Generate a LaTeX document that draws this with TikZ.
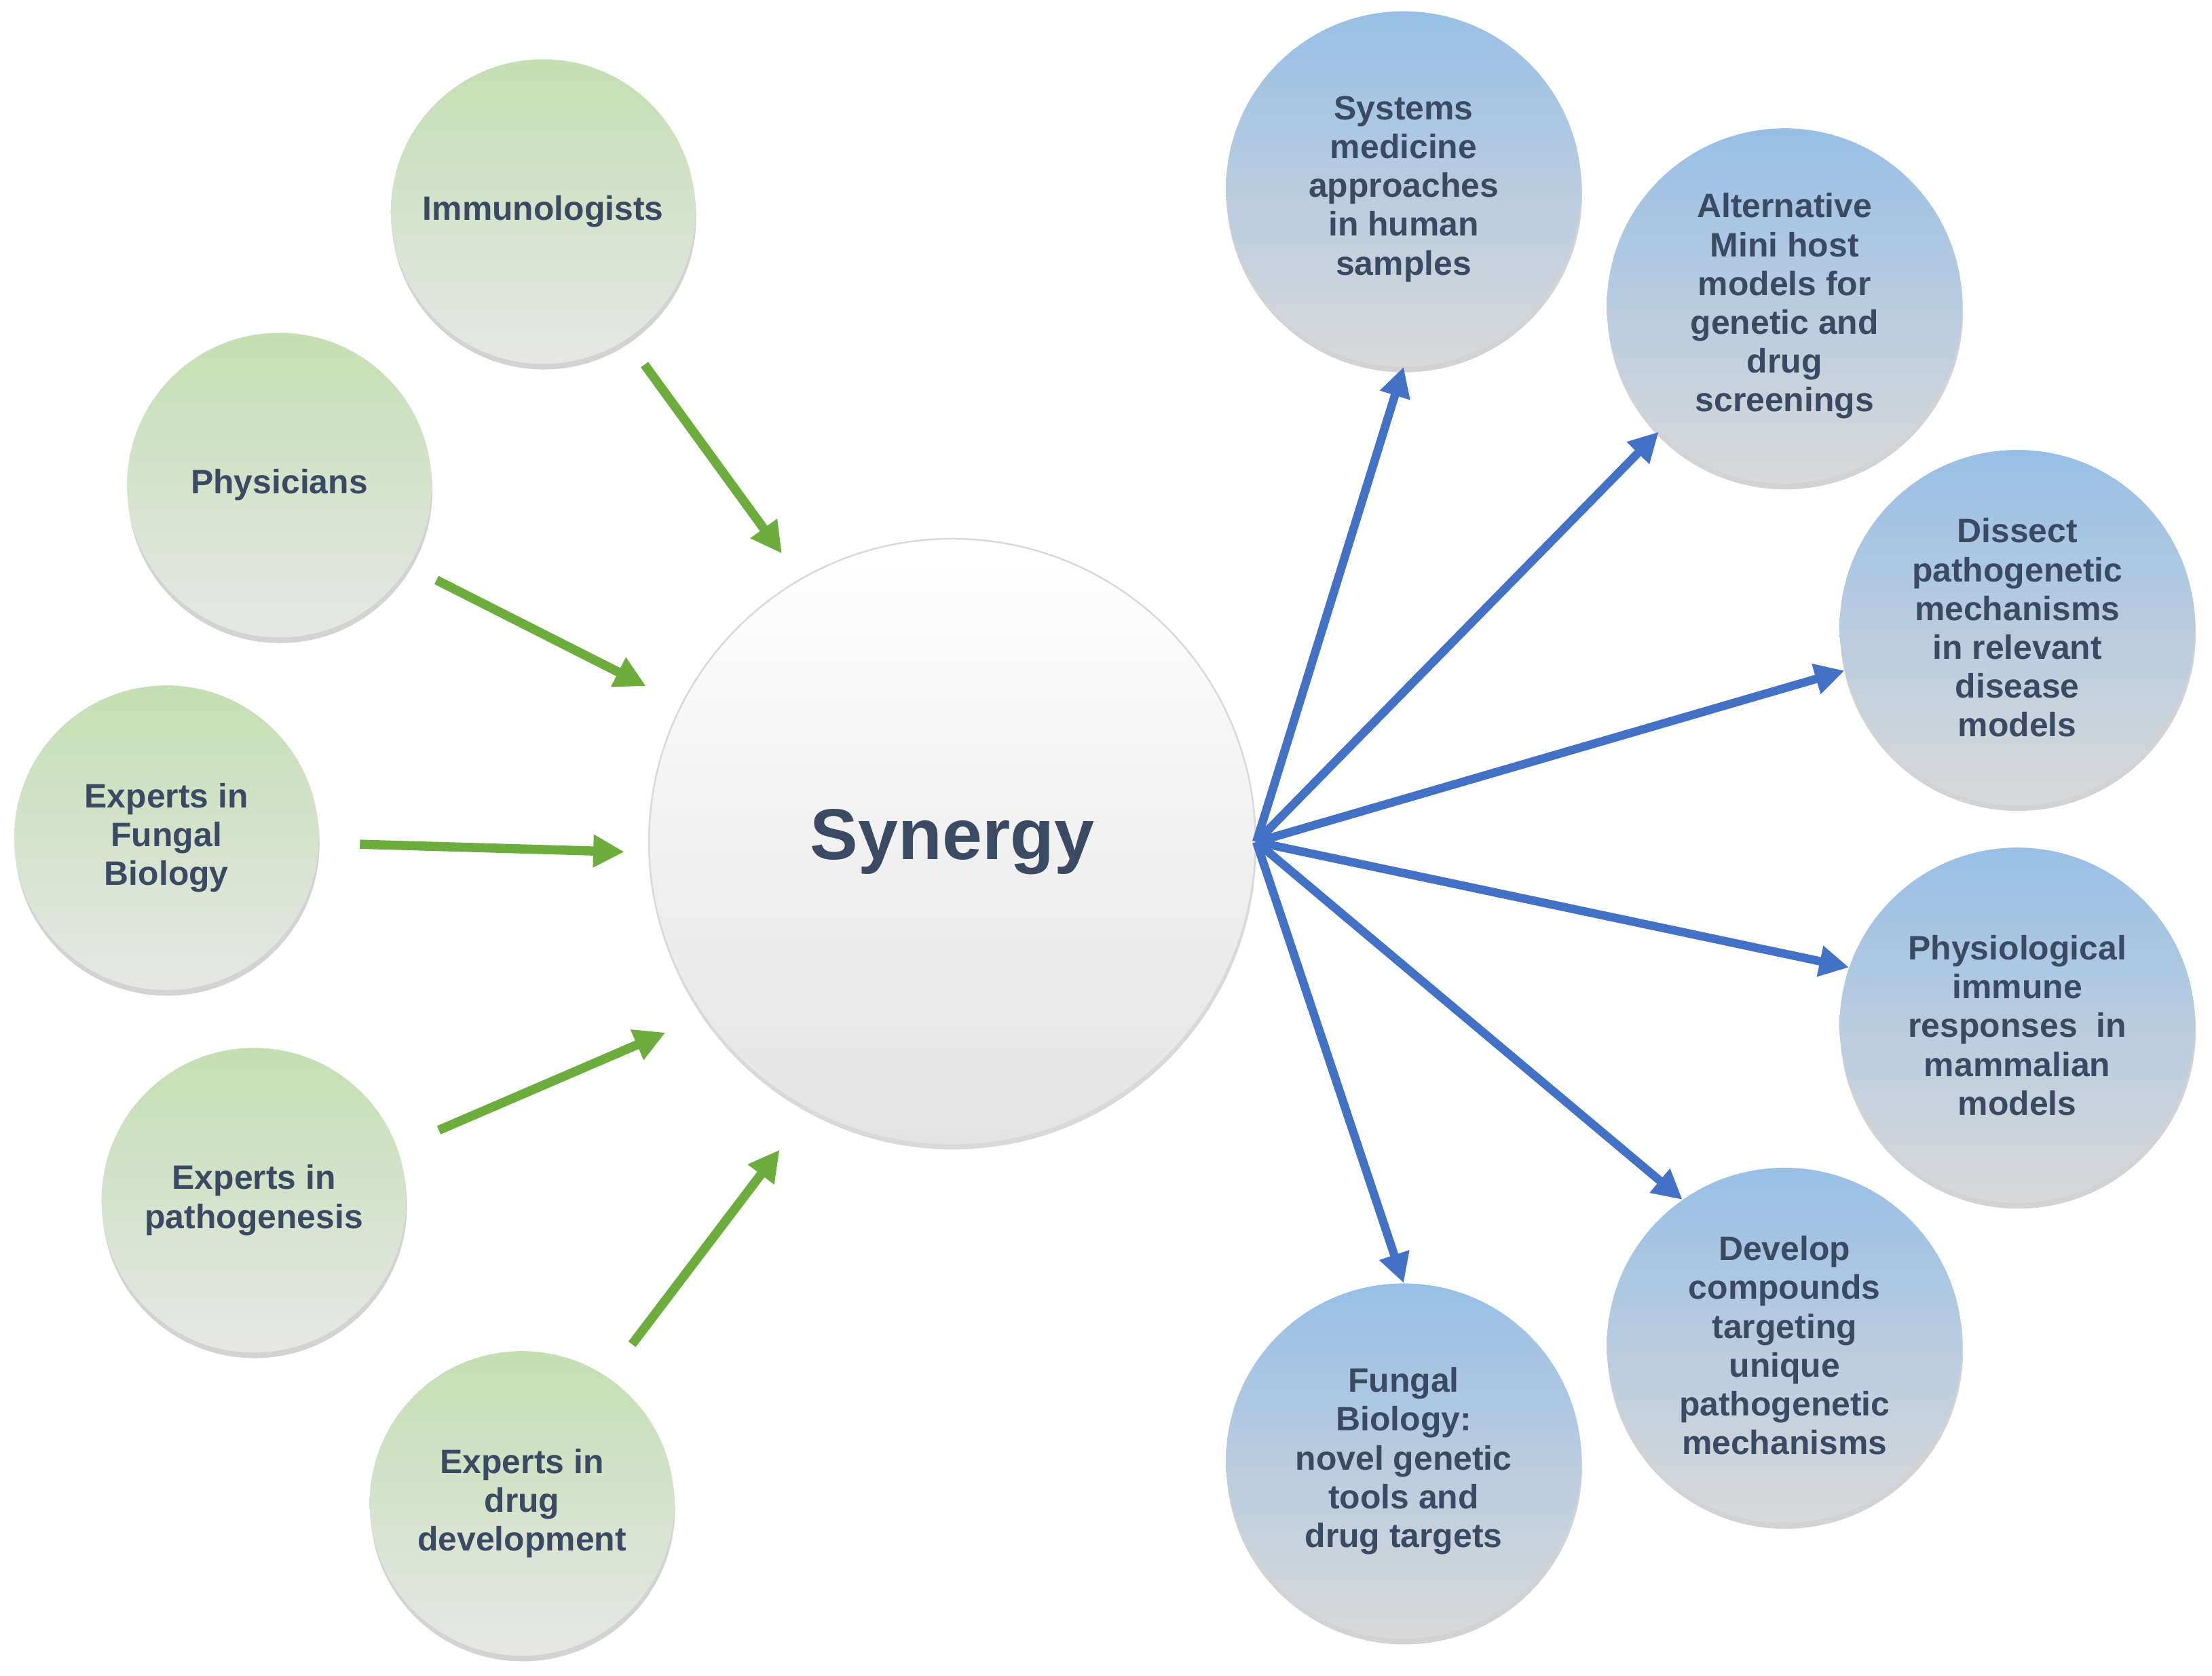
\documentclass[tikz,border=0pt]{standalone}
\usepackage{fontspec}
\setmainfont{Liberation Sans}
\usetikzlibrary{positioning,shadows,arrows.meta}
\definecolor{txtc}{HTML}{3B4A63}
\definecolor{gtop}{HTML}{C4DFB2}
\definecolor{gmid}{HTML}{DEEED5}
\definecolor{gbot}{HTML}{E6E6E6}
\definecolor{btop}{HTML}{98BFE6}
\definecolor{bmid}{HTML}{E0EBF6}
\definecolor{bbot}{HTML}{D9D9D9}
\definecolor{garr}{HTML}{6CAD3E}
\definecolor{barr}{HTML}{4371C6}

\begin{document}
\begin{tikzpicture}[x=1pt,y=-1pt]
\tikzstyle{lab} = [shape=circle,inner sep=0pt,align=center,text=txtc,font=\fontsize{24}{27.5}\selectfont\bfseries]
\tikzstyle{gv} = [lab,minimum size=216pt,top color=gtop,middle color=gmid,bottom color=gbot,drop shadow={opacity=0.35,shadow xshift=0.5pt,shadow yshift=-4pt}]
\tikzstyle{bv} = [lab,minimum size=252pt,top color=btop,middle color=bmid,bottom color=bbot,drop shadow={opacity=0.35,shadow xshift=0.5pt,shadow yshift=-4pt}]
\tikzstyle{cv} = [lab,minimum size=430pt,top color=white,middle color=white,bottom color=black!11,draw=black!15,line width=1.2pt,font=\fontsize{51}{56}\selectfont\bfseries,drop shadow={opacity=0.3,shadow xshift=0.5pt,shadow yshift=-3pt}]
\tikzstyle{ga} = [-{Triangle[length=22pt,width=22pt]},draw=garr,line width=6.5pt]
\tikzstyle{ba} = [-{Triangle[length=21pt,width=21pt]},draw=barr,line width=6pt]
\useasboundingbox (0,0) rectangle (1568,1188);

\node[cv] (syn) at (675,597) {Synergy};

% left side
\node[gv] (immu) at (385,150) {Immunologists};
\node[gv] (phys) at (198,344) {Physicians};
\node[gv] (fbio) at (118,594) {Experts in\\Fungal\\Biology};
\node[gv] (path) at (180,851) {Experts in\\pathogenesis};
\node[gv] (drug) at (370,1066) {Experts in\\drug\\development};

% right side
\node[bv] (sysm) at (995,134) {Systems\\medicine\\approaches\\in human\\samples};
\node[bv] (mini) at (1265,217) {Alternative\\Mini host\\models for\\genetic and\\drug\\screenings};
\node[bv] (diss) at (1430,445) {Dissect\\pathogenetic\\mechanisms\\in relevant\\disease\\models};
\node[bv] (immr) at (1430,727) {Physiological\\immune\\responses\ \ in\\mammalian\\models};
\node[bv] (comp) at (1265,954) {Develop\\compounds\\targeting\\unique\\pathogenetic\\mechanisms};
\node[bv] (tool) at (995,1036) {Fungal\\Biology:\\novel genetic\\tools and\\drug targets};

\draw[ga,shorten <=22pt,shorten >=22pt] (immu.-57) -- (syn.120);
\draw[ga,shorten <=22pt,shorten >=28pt] (phys.-32) -- (syn.153);
\draw[ga,shorten <=29pt,shorten >=17pt] (fbio.-2) -- (syn.182);
\draw[ga,shorten <=32pt,shorten >=29pt] (path.20) -- (syn.215);
\draw[ga,shorten <=29pt,shorten >=35pt] (drug.56) -- (syn.242);

\draw[ba] (syn.east) -- (sysm.south);
\draw[ba] (syn.east) -- (mini.225);
\draw[ba] (syn.east) -- (diss.194);
\draw[ba] (syn.east) -- (immr.161);
\draw[ba] (syn.east) -- (comp.125);
\draw[ba] (syn.east) -- (tool.north);
\end{tikzpicture}
\end{document}
